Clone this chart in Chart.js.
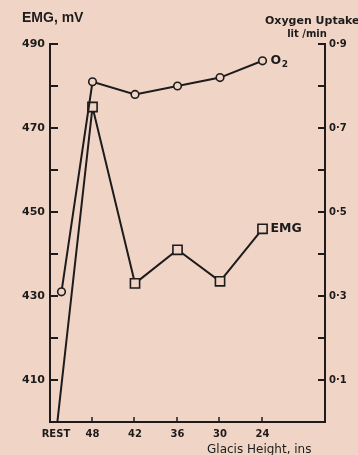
<!DOCTYPE html>
<html>
<head>
<meta charset="utf-8">
<script src="https://cdn.jsdelivr.net/npm/chart.js@4/dist/chart.umd.min.js"></script>
<style>
  html, body { margin: 0; padding: 0; background: #f0d5c6; }
  #wrap { width: 358px; height: 455px; position: relative; }
</style>
</head>
<body>
<div id="wrap"><canvas id="c" width="358" height="455"></canvas></div>
<script>
// Glacis height steps (REST first), EMG amplitude and oxygen uptake
const categories = ['REST', '48', '42', '36', '30', '24'];
const emgMv = [397, 475, 433, 441, 433.5, 446];
const o2Uptake = [0.31, 0.81, 0.78, 0.80, 0.82, 0.86];

// Axis ticks
const emgTicks = [410, 420, 430, 440, 450, 460, 470, 480, 490];
const emgTickLabels = ['410', '', '430', '', '450', '', '470', '', '490'];
const o2Ticks = [0.1, 0.2, 0.3, 0.4, 0.5, 0.6, 0.7, 0.8, 0.9];
const o2TickLabels = ['0·1', '', '0·3', '', '0·5', '', '0·7', '', '0·9'];

const BG = '#f0d5c6';
const INK = '#1d1b1b';

// horizontal slot of each step; REST sits close to the left axis
function slot(i, restSlot) { return i === 0 ? restSlot : i; }
const xLabelSlots = categories.map((c, i) => slot(i, 0.14));

const emgPoints = emgMv.map((v, i) => ({ x: slot(i, 0.14), y: v }));
const o2Points = o2Uptake.map((v, i) => ({ x: slot(i, 0.27), y: v }));

const decor = {
  id: 'decor',
  beforeDraw(chart) {
    const ctx = chart.ctx;
    ctx.save();
    ctx.fillStyle = BG;
    ctx.fillRect(0, 0, chart.width, chart.height);
    ctx.restore();
  },
  afterDraw(chart) {
    const ctx = chart.ctx;
    const area = chart.chartArea;
    const sx = chart.scales.x, sy = chart.scales.y, sy1 = chart.scales.y1;
    ctx.save();
    ctx.strokeStyle = INK;
    ctx.lineWidth = 2;
    ctx.lineCap = 'butt';
    // inward tick marks
    emgTicks.forEach(v => {
      const y = Math.round(sy.getPixelForValue(v));
      ctx.beginPath(); ctx.moveTo(area.left, y); ctx.lineTo(area.left + 8, y); ctx.stroke();
    });
    o2Ticks.forEach(v => {
      const y = Math.round(sy1.getPixelForValue(v));
      ctx.beginPath(); ctx.moveTo(area.right, y); ctx.lineTo(area.right - 7, y); ctx.stroke();
    });
    ctx.lineWidth = 1.5;
    xLabelSlots.slice(1).forEach(v => {
      const x = Math.round(sx.getPixelForValue(v)) - 1;
      ctx.beginPath(); ctx.moveTo(x, area.bottom); ctx.lineTo(x, area.bottom - 5); ctx.stroke();
    });

    // titles and series labels
    ctx.fillStyle = INK;
    ctx.textBaseline = 'middle';
    ctx.textAlign = 'left';
    ctx.font = 'bold 14px "Liberation Sans"';
    ctx.fillText('EMG, mV', 22, 18);
    ctx.font = 'bold 11px "DejaVu Sans"';
    ctx.fillText('Oxygen Uptake', 265, 21);
    ctx.textAlign = 'center';
    ctx.font = 'bold 10px "DejaVu Sans"';
    ctx.fillText('lit /min', 307, 34);

    ctx.textAlign = 'left';
    ctx.textBaseline = 'alphabetic';
    ctx.font = '12px "DejaVu Sans"';
    ctx.fillText('Glacis Height, ins', 207, 453);

    // series names beside their last points
    const lastE = chart.getDatasetMeta(1).data[emgMv.length - 1];
    const lastO = chart.getDatasetMeta(0).data[o2Uptake.length - 1];
    ctx.textBaseline = 'middle';
    ctx.font = 'bold 12.5px "DejaVu Sans"';
    ctx.fillText('EMG', lastE.x + 8, lastE.y);
    ctx.font = 'bold 12.5px "DejaVu Sans"';
    ctx.fillText('O', lastO.x + 8, lastO.y);
    const oW = ctx.measureText('O').width;
    ctx.font = 'bold 9px "DejaVu Sans"';
    ctx.fillText('2', lastO.x + 8 + oW + 0.5, lastO.y + 4);
    ctx.restore();
  }
};

new Chart(document.getElementById('c'), {
  type: 'line',
  data: {
    datasets: [
      {
        label: 'O2',
        data: o2Points,
        yAxisID: 'y1',
        borderColor: INK,
        borderWidth: 2,
        pointStyle: 'circle',
        pointRadius: 3.8,
        pointBorderWidth: 1.6,
        pointBackgroundColor: BG,
        pointBorderColor: INK,
        tension: 0,
        clip: 0
      },
      {
        label: 'EMG',
        data: emgPoints,
        yAxisID: 'y',
        borderColor: INK,
        borderWidth: 2,
        pointStyle: 'rect',
        pointRadius: 6.5,
        pointBorderWidth: 1.6,
        pointBackgroundColor: BG,
        pointBorderColor: INK,
        tension: 0,
        clip: 0
      }
    ]
  },
  options: {
    responsive: false,
    animation: false,
    devicePixelRatio: 1,
    layout: { padding: { top: 44, left: 0, right: 0, bottom: 0 } },
    plugins: { legend: { display: false }, tooltip: { enabled: false } },
    scales: {
      x: {
        type: 'linear',
        min: 0,
        max: 6.47,
        afterBuildTicks(scale) { scale.ticks = xLabelSlots.map(v => ({ value: v })); },
        afterFit(scale) { scale.height = 33; },
        grid: { display: false, drawTicks: false },
        border: { display: true, color: INK, width: 2 },
        ticks: {
          autoSkip: false,
          maxRotation: 0,
          padding: 6,
          color: INK,
          font: { family: 'DejaVu Sans', size: 10, weight: 'bold' },
          callback: (v) => {
            const i = xLabelSlots.findIndex(s => Math.abs(s - v) < 1e-6);
            return i >= 0 ? categories[i] : '';
          }
        }
      },
      y: {
        position: 'left',
        min: 400,
        max: 490,
        afterBuildTicks(scale) { scale.ticks = emgTicks.map(v => ({ value: v })); },
        afterFit(scale) { scale.width = 50; },
        grid: { display: false, drawTicks: false },
        border: { display: true, color: INK, width: 2 },
        ticks: {
          autoSkip: false,
          padding: 5,
          color: INK,
          font: { family: 'DejaVu Sans', size: 11, weight: 'bold' },
          callback: (v) => emgTickLabels[emgTicks.indexOf(v)] || ''
        }
      },
      y1: {
        position: 'right',
        min: 0,
        max: 0.9,
        afterBuildTicks(scale) { scale.ticks = o2Ticks.map(v => ({ value: v })); },
        afterFit(scale) { scale.width = 33; },
        grid: { display: false, drawTicks: false },
        border: { display: true, color: INK, width: 2 },
        ticks: {
          autoSkip: false,
          padding: 4,
          color: INK,
          font: { family: 'DejaVu Sans', size: 10, weight: 'bold' },
          callback: (v) => {
            const i = o2Ticks.findIndex(t => Math.abs(t - v) < 1e-6);
            return i >= 0 ? o2TickLabels[i] : '';
          }
        }
      }
    }
  },
  plugins: [decor]
});
</script>
</body>
</html>
